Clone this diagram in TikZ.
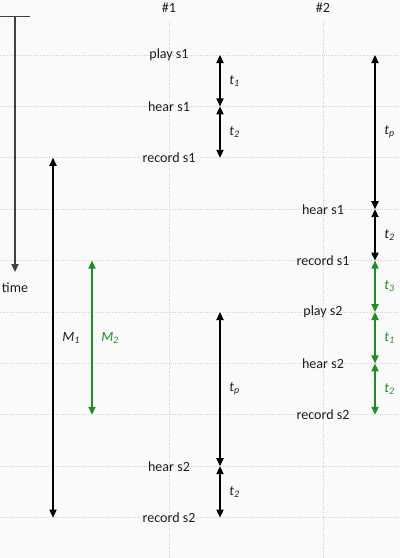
\documentclass[tikz,border=0pt]{standalone}
\usepackage{fontspec}
\setmainfont{Carlito}
\usepackage{tikz}
\usetikzlibrary{positioning,calc,arrows.meta}

\definecolor{mgreen}{RGB}{30,140,40}
\definecolor{ink}{RGB}{30,30,30}
\newcommand{\tvar}[2]{\textit{#1}\textsubscript{\textit{#2}}}

\begin{document}
\begin{tikzpicture}[
    x=0.025cm, y=-0.025cm,
    grid/.style={draw, gray!35, densely dotted, line width=0.6pt},
    event/.style={font=\normalsize, text=ink, inner sep=1pt},
    dur/.style={draw, line width=0.9pt, {Triangle[length=2mm,width=1.8mm]}-{Triangle[length=2mm,width=1.8mm]}},
    tlabel/.style={font=\normalsize, text=ink, right=1mm}
]

% Background and bounding box
\fill[gray!4] (0,0) rectangle (400,558);
\useasboundingbox (0,0) rectangle (400,558);

% Grid rows and named points on the duration axes
\foreach \i in {0,...,9} {
    \draw[grid] (0,55+51.4*\i) -- (400,55+51.4*\i);
    \coordinate (a\i) at (220,55+51.4*\i);
    \coordinate (b\i) at (375,55+51.4*\i);
    \coordinate (m\i) at (53,55+51.4*\i);
    \coordinate (n\i) at (92,55+51.4*\i);
}
\draw[grid] (169,22) -- (169,558);
\draw[grid] (323,22) -- (323,558);

% Column headers
\node[event] (H1) at (169,8) {\#1};
\node[event] (H2) at (323,8) {\#2};

% Time axis
\coordinate (T0) at (15,16);
\coordinate (T1) at (15,272);
\draw[line width=0.9pt, black!75, {Bar[width=0.75cm]}-{Triangle[length=2mm,width=1.8mm]}] (T0) -- (T1);
\node[event] (time) at (15,288) {time};

% Events of #1
\node[event] (play1A) at (169,55) {play s1};
\node[event] (hear1A) at (169,106.4) {hear s1};
\node[event] (rec1A) at (169,157.8) {record s1};
\node[event] (hear2A) at (169,466.2) {hear s2};
\node[event] (rec2A) at (169,517.6) {record s2};

% Events of #2
\node[event] (hear1B) at (323,209.2) {hear s1};
\node[event] (rec1B) at (323,260.6) {record s1};
\node[event] (play2B) at (323,312) {play s2};
\node[event] (hear2B) at (323,363.4) {hear s2};
\node[event] (rec2B) at (323,414.8) {record s2};

% Durations of #1
\draw[dur] (a0) -- (a1) node[tlabel, midway] {\tvar{t}{1}};
\draw[dur] (a1) -- (a2) node[tlabel, midway] {\tvar{t}{2}};
\draw[dur] (a5) -- (a8) node[tlabel, midway] {\tvar{t}{p}};
\draw[dur] (a8) -- (a9) node[tlabel, midway] {\tvar{t}{2}};

% Durations of #2
\draw[dur] (b0) -- (b3) node[tlabel, midway] {\tvar{t}{p}};
\draw[dur] (b3) -- (b4) node[tlabel, midway] {\tvar{t}{2}};
\draw[dur, mgreen] (b4) -- (b5) node[tlabel, midway, text=mgreen] {\tvar{t}{3}};
\draw[dur, mgreen] (b5) -- (b6) node[tlabel, midway, text=mgreen] {\tvar{t}{1}};
\draw[dur, mgreen] (b6) -- (b7) node[tlabel, midway, text=mgreen] {\tvar{t}{2}};

% Measured spans
\draw[dur] (m2) -- (m9) node[tlabel, midway] {\tvar{M}{1}};
\draw[dur, mgreen] (n4) -- (n7) node[tlabel, midway, text=mgreen] {\tvar{M}{2}};

\end{tikzpicture}
\end{document}
